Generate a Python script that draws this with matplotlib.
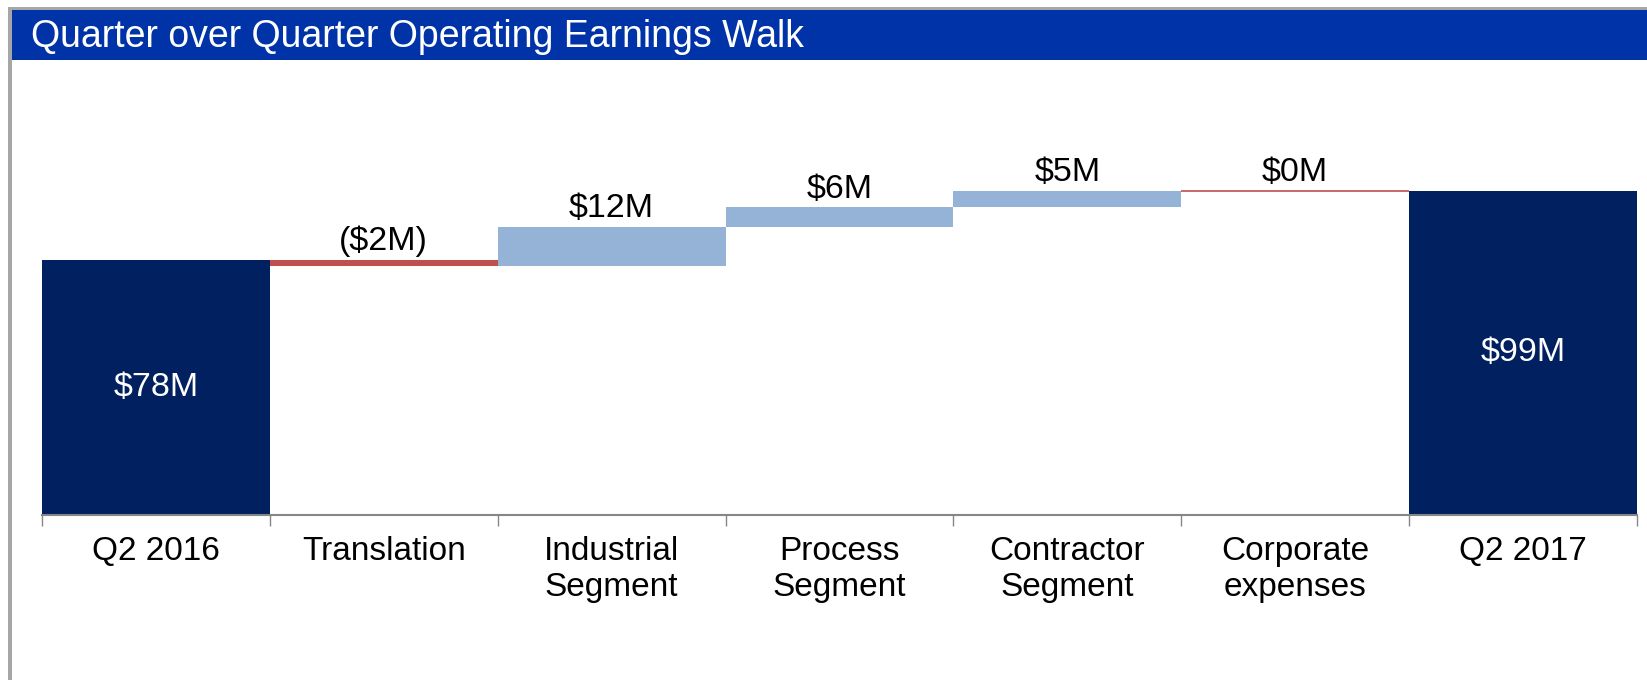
import numpy as np
import matplotlib.pyplot as plt
from matplotlib.patches import Rectangle

# Operating earnings walk, $M
categories = ['Q2 2016', 'Translation', 'Industrial\nSegment', 'Process\nSegment',
              'Contractor\nSegment', 'Corporate\nexpenses', 'Q2 2017']
start_value = 78
changes = [-2, 12, 6, 5, 0]
end_value = 99
change_labels = ['($2M)', '$12M', '$6M', '$5M', '$0M']
total_labels = ['$78M', '$99M']

navy = '#002060'
light_blue = '#95B3D7'
red = '#C0504D'
title_blue = '#0033A8'
border_gray = '#A6A6A6'

plt.rcParams['font.family'] = ['Liberation Sans', 'DejaVu Sans']

W, H = 1647, 680
fig = plt.figure(figsize=(W / 100, H / 100), dpi=100)

# frame and title bar (pixel coords -> figure fraction)
def px_rect(x0, y0, x1, y1, color, z):
    fig.patches.append(Rectangle((x0 / W, 1 - y1 / H), (x1 - x0) / W, (y1 - y0) / H,
                                 transform=fig.transFigure, facecolor=color,
                                 edgecolor='none', zorder=z))

px_rect(8, 7, W, H, border_gray, 0)
px_rect(12, 11, W, H, 'white', 1)
px_rect(12, 10, W, 60, title_blue, 2)
fig.text(31 / W, 1 - 37 / H, 'Quarter over Quarter Operating Earnings Walk',
         color='white', fontsize=27, va='center', ha='left', zorder=3)

ax = fig.add_axes([42 / W, 1 - 515 / H, (1637 - 42) / W, (515 - 60) / H])
ax.set_zorder(4)
ax.patch.set_alpha(0)

x = np.arange(len(categories))

# totals
ax.bar([x[0], x[-1]], [start_value, end_value], width=1.0, color=navy)
for xi, val, lab in zip([x[0], x[-1]], [start_value, end_value], total_labels):
    ax.text(xi, val / 2, lab, color='white', ha='center', va='center', fontsize=24.5)

# floating changes
level = start_value
for i, (chg, lab) in enumerate(zip(changes, change_labels)):
    xi = x[i + 1]
    col = red if chg <= 0 else light_blue
    bottom = level + min(chg, 0)
    ax.bar(xi, abs(chg), bottom=bottom, width=1.0, color=col,
           edgecolor=col if chg == 0 else 'none', linewidth=1.2)
    top = max(level, level + chg)
    ax.annotate(lab, (xi, top), xytext=(0, 2), textcoords='offset points',
                ha='center', va='bottom', fontsize=24.5)
    level += chg

ax.set_xlim(-0.5, len(categories) - 0.5)
ax.set_ylim(0, 139)
ax.set_yticks([])
for s in ['top', 'right', 'left']:
    ax.spines[s].set_visible(False)
ax.spines['bottom'].set_color('#868686')
ax.spines['bottom'].set_linewidth(1.5)

ax.set_xticks(np.arange(-0.5, len(categories), 1.0))
ax.set_xticklabels([])
ax.tick_params(axis='x', length=8, color='#868686', width=1)
ax.set_xticks(x, minor=True)
ax.set_xticklabels(categories, minor=True, fontsize=24, linespacing=1.22)
ax.tick_params(axis='x', which='minor', length=0, pad=15)

fig.savefig('out.png', dpi=100)
